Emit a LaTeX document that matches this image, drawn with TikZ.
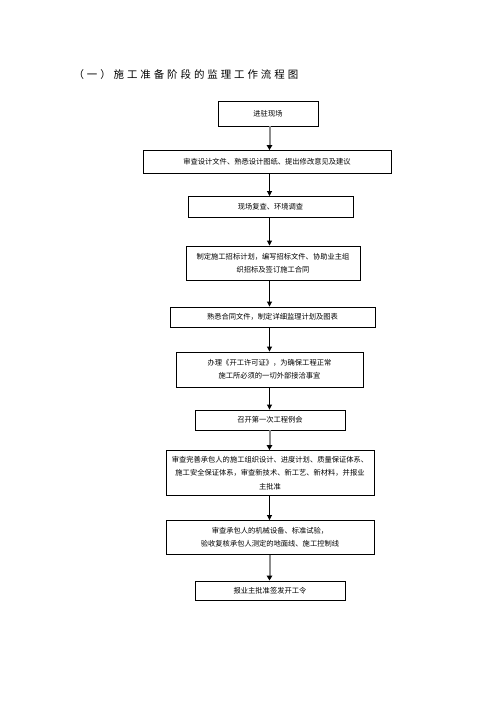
\documentclass[tikz,border=0pt]{standalone}
\usepackage{fontspec}
\newfontfamily\cjk{Noto Sans CJK SC}
\newfontfamily\cjktitle[LetterSpace=28]{Noto Sans CJK SC}
\usetikzlibrary{arrows.meta}
\begin{document}
\begin{tikzpicture}[x=1bp,y=-1bp,
  box/.style={draw=black,line width=0.9bp,inner sep=0pt,align=center,
    font=\cjk\fontsize{7.3}{13.3}\selectfont},
  arr/.style={draw=black,line width=0.9bp,-{Triangle[length=5bp,width=5bp]}},
  garr/.style={draw=black!45,line width=2bp,-{Triangle[length=5bp,width=5.5bp,fill=black,color=black]}},
  ]
\useasboundingbox (0,0) rectangle (496,702);
\node[anchor=west,font=\cjktitle\fontsize{10.5}{12}\selectfont] (title) at (70,75) {（一）施工准备阶段的监理工作流程图};
\node[box,minimum width=100bp,minimum height=25bp] (b1) at (268,113.5) {进驻现场};
\node[box,minimum width=248bp,minimum height=23bp] (b2) at (267,162) {审查设计文件、熟悉设计图纸、提出修改意见及建议};
\node[box,minimum width=165bp,minimum height=21bp] (b3) at (270.5,207) {现场复查、环境调查};
\node[box,minimum width=174bp,minimum height=34bp] (b4) at (273,263) {制定施工招标计划，编写招标文件、协助业主组\\织招标及签订施工合同};
\node[box,minimum width=205bp,minimum height=20bp] (b5) at (272.5,317) {熟悉合同文件，制定详细监理计划及图表};
\node[box,minimum width=187bp,minimum height=35bp] (b6) at (269.5,369.5) {办理《开工许可证》，为确保工程正常\\施工所必须的一切外部接洽事宜};
\node[box,minimum width=150bp,minimum height=20bp] (b7) at (270,420) {召开第一次工程例会};
\node[box,minimum width=208bp,minimum height=45bp] (b8) at (270,473) {审查完善承包人的施工组织设计、进度计划、质量保证体系、\\施工安全保证体系，审查新技术、新工艺、新材料，并报业\\主批准};
\node[box,minimum width=208bp,minimum height=34bp] (b9) at (270,537.5) {审查承包人的机械设备、标准试验，\\验收复核承包人测定的地面线、施工控制线};
\node[box,minimum width=150bp,minimum height=19bp] (b10) at (270,590.5) {报业主批准签发开工令};
\coordinate (ax) at (269.5,0);
\draw[garr] (b1.south -| ax) -- (b2.north -| ax);
\draw[arr] (b2.south -| ax) -- (b3.north -| ax);
\draw[arr] (b3.south -| ax) -- (b4.north -| ax);
\draw[arr] (b4.south -| ax) -- (b5.north -| ax);
\draw[arr] (b5.south -| ax) -- (b6.north -| ax);
\draw[arr] (b6.south -| ax) -- (b7.north -| ax);
\draw[garr] (b7.south -| ax) -- (b8.north -| ax);
\draw[arr] (b8.south -| ax) -- (b9.north -| ax);
\draw[garr] (b9.south -| ax) -- (b10.north -| ax);
\end{tikzpicture}
\end{document}
